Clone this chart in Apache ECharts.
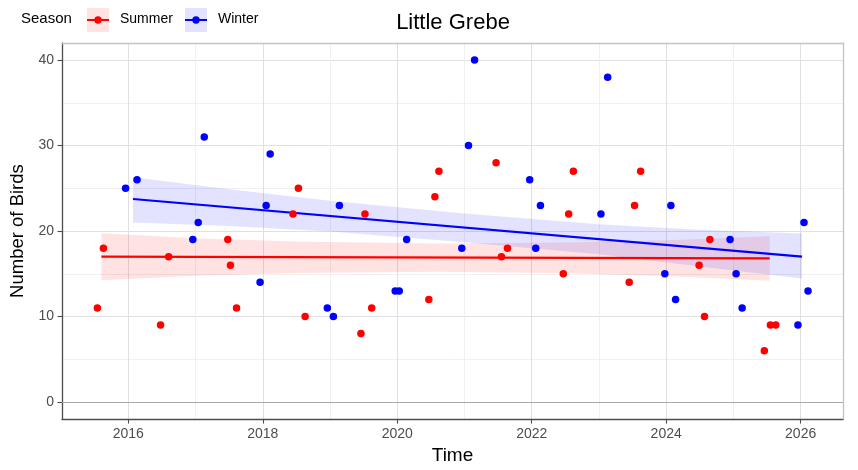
<!DOCTYPE html>
<html><head><meta charset="utf-8">
<script src="https://cdn.jsdelivr.net/npm/echarts@6/dist/echarts.min.js"></script>
<style>html,body{margin:0;padding:0;background:#fff}#c{width:858px;height:470px}</style>
</head><body><div id="c"></div>
<script>
const summerTime = [2015.54, 2015.63, 2016.48, 2016.60, 2017.48, 2017.52, 2017.61, 2018.45, 2018.53, 2018.63, 2019.46, 2019.52, 2019.62, 2020.47, 2020.56, 2020.62, 2021.47, 2021.55, 2021.64, 2022.47, 2022.55, 2022.62, 2023.45, 2023.53, 2023.62, 2024.49, 2024.57, 2024.65, 2025.46, 2025.55, 2025.63];
const summerBirds = [11, 18, 9, 17, 19, 16, 11, 22, 25, 10, 8, 22, 11, 12, 24, 27, 28, 17, 18, 15, 22, 27, 14, 23, 27, 16, 10, 19, 6, 9, 9];
const winterTime = [2015.96, 2016.13, 2016.96, 2017.04, 2017.13, 2017.96, 2018.05, 2018.11, 2018.96, 2019.05, 2019.14, 2019.97, 2020.03, 2020.14, 2020.96, 2021.06, 2021.15, 2021.97, 2022.06, 2022.13, 2023.03, 2023.13, 2023.98, 2024.07, 2024.14, 2024.95, 2025.04, 2025.13, 2025.96, 2026.05, 2026.11];
const winterBirds = [25, 26, 19, 21, 31, 14, 23, 29, 11, 10, 23, 13, 13, 19, 18, 30, 40, 26, 18, 23, 22, 38, 15, 23, 12, 19, 15, 11, 9, 21, 13];

const summerFitTime = [2015.60, 2025.54];
const summerFit = [17.0, 16.8];
const winterFitTime = [2016.07, 2026.02];
const winterFit = [23.75, 17.0];

const summerBandTime = [2015.60, 2017.0, 2018.5, 2020.6, 2022.5, 2024.0, 2025.54];
const summerBandLow = [14.25, 14.77, 15.09, 15.25, 15.06, 14.73, 14.2];
const summerBandHigh = [19.75, 19.17, 18.79, 18.55, 18.66, 18.93, 19.4];
const winterBandTime = [2016.07, 2017.5, 2019.0, 2021.0, 2023.0, 2024.5, 2026.02];
const winterBandLow = [21.0, 20.6, 19.95, 18.7, 17.3, 15.85, 14.45];
const winterBandHigh = [26.3, 24.9, 23.55, 22.05, 20.8, 20.15, 19.7];

const xMajorTicks = [2016, 2018, 2020, 2022, 2024, 2026];
const xMinorTicks = [2017, 2019, 2021, 2023, 2025];
const yMajorTicks = [0, 10, 20, 30, 40];
const yMinorTicks = [5, 15, 25, 35];

const FONT = '"Liberation Sans", Arial, sans-serif';
const RED = '#ff0000', BLUE = '#0000ff';
const X_MIN = 2015.014, X_MAX = 2026.63, Y_MIN = -2, Y_MAX = 42;

function bandSeries(name, t, lo, hi, fill) {
  return {
    type: 'custom', name: name, silent: true, z: 1, clip: true,
    data: t.map((x, i) => [x, lo[i], hi[i]]),
    encode: { x: 0, y: [1, 2] },
    renderItem: function (params, api) {
      if (params.dataIndex !== 0) return null;
      const pts = [];
      for (let i = 0; i < t.length; i++) pts.push(api.coord([t[i], hi[i]]));
      for (let i = t.length - 1; i >= 0; i--) pts.push(api.coord([t[i], lo[i]]));
      return { type: 'polygon', shape: { points: pts }, style: { fill: fill } };
    }
  };
}

const chart = echarts.init(document.getElementById('c'), null, { renderer: 'canvas' });
chart.setOption({
  animation: false,
  backgroundColor: '#ffffff',
  textStyle: { fontFamily: FONT },
  title: {
    text: 'Little Grebe', left: 448, top: 7, textAlign: 'center',
    textStyle: { fontFamily: FONT, fontSize: 22, fontWeight: 'normal', color: '#000' }
  },
  grid: { left: 62, right: 15, top: 43, bottom: 48.5, containLabel: false },
  xAxis: [{
    type: 'value', min: X_MIN, max: X_MAX, position: 'bottom',
    name: 'Time', nameLocation: 'middle', nameGap: 26,
    nameTextStyle: { fontFamily: FONT, fontSize: 19, color: '#000' },
    axisLine: { show: true, onZero: false, lineStyle: { color: '#4d4d4d', width: 1.3 } },
    axisTick: { show: true, length: 4.5, customValues: xMajorTicks, lineStyle: { color: '#4d4d4d', width: 1.1 } },
    axisLabel: { show: true, customValues: xMajorTicks, margin: 8, fontSize: 14, color: '#4d4d4d', fontFamily: FONT, formatter: v => String(v) },
    splitLine: { show: true, lineStyle: { color: '#e0e0e0', width: 1 } }
  }, {
    type: 'value', min: X_MIN, max: X_MAX, position: 'top',
    axisLine: { show: true, onZero: false, lineStyle: { color: '#c4c4c4', width: 1.3 } },
    axisTick: { show: false, customValues: xMinorTicks },
    axisLabel: { show: false, customValues: xMinorTicks },
    splitLine: { show: true, lineStyle: { color: '#f0f0f0', width: 1 } }
  }],
  yAxis: [{
    type: 'value', min: Y_MIN, max: Y_MAX, position: 'left',
    name: 'Number of Birds', nameLocation: 'middle', nameGap: 31, nameRotate: 90,
    nameTextStyle: { fontFamily: FONT, fontSize: 18.5, color: '#000' },
    axisLine: { show: true, onZero: false, lineStyle: { color: '#4d4d4d', width: 1.3 } },
    axisTick: { show: true, length: 4.5, customValues: yMajorTicks, lineStyle: { color: '#4d4d4d', width: 1.1 } },
    axisLabel: { show: true, customValues: yMajorTicks, margin: 8, fontSize: 14, color: '#4d4d4d', fontFamily: FONT },
    splitLine: { show: true, lineStyle: { color: '#e0e0e0', width: 1 } }
  }, {
    type: 'value', min: Y_MIN, max: Y_MAX, position: 'right',
    axisLine: { show: true, onZero: false, lineStyle: { color: '#c4c4c4', width: 1.3 } },
    axisTick: { show: false, customValues: yMinorTicks },
    axisLabel: { show: false, customValues: yMinorTicks },
    splitLine: { show: true, lineStyle: { color: '#f0f0f0', width: 1 } }
  }],
  graphic: [
    { type: 'text', left: 21, top: 11, style: { text: 'Season', font: '15px ' + FONT, fill: '#000' } },
    { type: 'rect', shape: { x: 87, y: 8, width: 22, height: 24 }, style: { fill: 'rgba(255,0,0,0.11)' } },
    { type: 'line', shape: { x1: 87, y1: 20, x2: 109, y2: 20 }, style: { stroke: RED, lineWidth: 2 } },
    { type: 'circle', shape: { cx: 98, cy: 20, r: 3.7 }, style: { fill: RED } },
    { type: 'text', left: 120, top: 12, style: { text: 'Summer', font: '14px ' + FONT, fill: '#000' } },
    { type: 'rect', shape: { x: 185, y: 8, width: 22, height: 24 }, style: { fill: 'rgba(0,0,255,0.11)' } },
    { type: 'line', shape: { x1: 185, y1: 20, x2: 207, y2: 20 }, style: { stroke: BLUE, lineWidth: 2 } },
    { type: 'circle', shape: { cx: 196, cy: 20, r: 3.7 }, style: { fill: BLUE } },
    { type: 'text', left: 218, top: 12, style: { text: 'Winter', font: '14px ' + FONT, fill: '#000' } }
  ],
  series: [
    Object.assign(bandSeries('Summer band', summerBandTime, summerBandLow, summerBandHigh, 'rgba(255,0,0,0.11)'), {
      markLine: {
        silent: true, symbol: 'none', label: { show: false },
        lineStyle: { color: '#a8a8a8', width: 1.2, type: 'solid' },
        data: [{ yAxis: 0 }]
      }
    }),
    bandSeries('Winter band', winterBandTime, winterBandLow, winterBandHigh, 'rgba(0,0,255,0.11)'),
    {
      type: 'line', name: 'Summer fit', z: 3, symbol: 'none', silent: true,
      data: summerFitTime.map((x, i) => [x, summerFit[i]]),
      lineStyle: { color: RED, width: 2.2 }
    },
    {
      type: 'line', name: 'Winter fit', z: 3, symbol: 'none', silent: true,
      data: winterFitTime.map((x, i) => [x, winterFit[i]]),
      lineStyle: { color: BLUE, width: 2.2 }
    },
    {
      type: 'scatter', name: 'Summer', z: 4, symbolSize: 7.5,
      data: summerTime.map((x, i) => [x, summerBirds[i]]),
      itemStyle: { color: RED, opacity: 1 }
    },
    {
      type: 'scatter', name: 'Winter', z: 4, symbolSize: 7.5,
      data: winterTime.map((x, i) => [x, winterBirds[i]]),
      itemStyle: { color: BLUE, opacity: 1 }
    }
  ]
});
</script>
</body></html>
